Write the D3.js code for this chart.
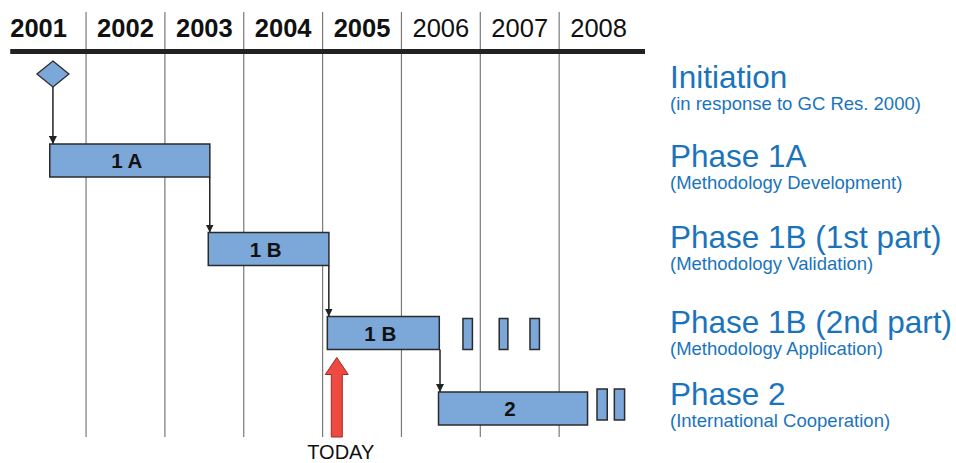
<!DOCTYPE html>
<html><head><meta charset="utf-8">
<script src="https://cdn.jsdelivr.net/npm/d3@7"></script>
<style>
html,body{margin:0;padding:0;background:#fff;}
svg{display:block;font-family:"Liberation Sans",Arial,Helvetica,sans-serif;}
</style></head>
<body>
<svg id="chart" width="956" height="463"></svg>
<script>
// ---------- data ----------
const years = [2001, 2002, 2003, 2004, 2005, 2006, 2007, 2008];
const rows = ["Initiation", "Phase 1A", "Phase 1B (1st part)", "Phase 1B (2nd part)", "Phase 2"];
const rowSubtitles = ["(in response to GC Res. 2000)", "(Methodology Development)", "(Methodology Validation)", "(Methodology Application)", "(International Cooperation)"];
const phaseLabels = ["1 A", "1 B", "1 B", "2"];
const phaseRows = ["Phase 1A", "Phase 1B (1st part)", "Phase 1B (2nd part)", "Phase 2"];
const phaseStart = [2001.54, 2003.55, 2005.06, 2006.47];
const phaseEnd = [2003.57, 2005.08, 2006.48, 2008.36];
const extraRows = ["Phase 1B (2nd part)", "Phase 1B (2nd part)", "Phase 1B (2nd part)", "Phase 2", "Phase 2"];
const extraStart = [2006.78, 2007.24, 2007.63, 2008.48, 2008.70];
const extraEnd = [2006.90, 2007.35, 2007.75, 2008.61, 2008.83];
const milestoneRow = "Initiation";
const milestoneYear = 2001.58;
const todayYear = 2005.18;
const todayLabel = "TODAY";

// ---------- scales ----------
const svg = d3.select("#chart");
const x = d3.scaleLinear().domain([2001, 2009]).range([7.2, 638]);
const y = d3.scaleOrdinal().domain(rows).range([74, 160.5, 249, 333, 408.5]);
const yLabel = d3.scaleOrdinal().domain(rows).range([88, 167, 248, 333, 405]);
const barH = 33;
const gridTop = 12, gridBottom = 437;

const fillBlue = "#7ba7d9", strokeDark = "#2b2b2b", textBlue = "#1a74bb";

// defs
svg.append("defs").append("marker")
  .attr("id", "ah").attr("viewBox", "0 0 10 10")
  .attr("refX", 10).attr("refY", 5)
  .attr("markerWidth", 8).attr("markerHeight", 8)
  .attr("markerUnits", "userSpaceOnUse")
  .attr("orient", "auto")
  .append("path").attr("d", "M0,0L10,5L0,10Z").attr("fill", "#222");

// grid lines
svg.append("g").selectAll("line").data(years.slice(1)).join("line")
  .attr("x1", d => x(d)).attr("x2", d => x(d))
  .attr("y1", gridTop).attr("y2", gridBottom)
  .attr("stroke", "#7a7a7a").attr("stroke-width", 1.2);

// thick header line
svg.append("line")
  .attr("x1", x.range()[0] + 3).attr("x2", x.range()[1] + 7)
  .attr("y1", 51.5).attr("y2", 51.5)
  .attr("stroke", "#222").attr("stroke-width", 5);

// year labels
svg.append("g").selectAll("text").data(years).join("text")
  .attr("x", d => (x(d) + x(d + 1)) / 2 - (d === years[0] ? 8 : 0))
  .attr("y", 37)
  .attr("text-anchor", "middle")
  .attr("font-size", 25.5)
  .attr("font-weight", d => d <= Math.floor(todayYear) ? "bold" : "normal")
  .attr("fill", "#111")
  .text(d => d);

// connectors
const starts = [{x: milestoneYear, row: milestoneRow, bottom: y(milestoneRow) + 13}]
  .concat(phaseStart.slice(0, -1).map((s, i) => ({x: phaseEnd[i], row: phaseRows[i], bottom: y(phaseRows[i]) + barH / 2})));
const conns = phaseStart.map((s, i) => ({
  x: i === 0 ? x(milestoneYear) : x(s) + 1.5,
  y1: starts[i].bottom,
  y2: y(phaseRows[i]) - barH / 2
}));
svg.append("g").selectAll("line").data(conns).join("line")
  .attr("x1", d => d.x).attr("x2", d => d.x)
  .attr("y1", d => d.y1).attr("y2", d => d.y2)
  .attr("stroke", "#222").attr("stroke-width", 1.5)
  .attr("marker-end", "url(#ah)");

// milestone diamond
const mx = x(milestoneYear), my = y(milestoneRow);
svg.append("path")
  .attr("d", `M${mx},${my - 13}L${mx + 16},${my}L${mx},${my + 13}L${mx - 16},${my}Z`)
  .attr("fill", fillBlue).attr("stroke", strokeDark).attr("stroke-width", 1.3);

// phase bars
const phases = phaseLabels.map((l, i) => ({label: l, row: phaseRows[i], s: phaseStart[i], e: phaseEnd[i]}));
const pg = svg.append("g").selectAll("g").data(phases).join("g");
pg.append("rect")
  .attr("x", d => x(d.s)).attr("width", d => x(d.e) - x(d.s))
  .attr("y", d => y(d.row) - barH / 2).attr("height", barH)
  .attr("fill", fillBlue).attr("stroke", strokeDark).attr("stroke-width", 1.5);
pg.append("text")
  .attr("x", d => (x(d.s) + x(d.e)) / 2 - 3)
  .attr("y", d => y(d.row) + 7.5)
  .attr("text-anchor", "middle")
  .attr("font-size", 20.5).attr("font-weight", "bold").attr("fill", "#111")
  .text(d => d.label);

// extra small bars
const extras = extraRows.map((r, i) => ({row: r, s: extraStart[i], e: extraEnd[i]}));
svg.append("g").selectAll("rect").data(extras).join("rect")
  .attr("x", d => x(d.s)).attr("width", d => x(d.e) - x(d.s))
  .attr("y", d => y(d.row) - barH / 2 + (d.row === "Phase 2" ? -3 : 2))
  .attr("height", 31)
  .attr("fill", fillBlue).attr("stroke", strokeDark).attr("stroke-width", 1.5);

// today arrow
const tx = x(todayYear);
const tipY = y("Phase 1B (2nd part)") + barH / 2 + 8;
const headY = tipY + 17;
svg.append("path")
  .attr("d", `M${tx},${tipY}L${tx + 11.5},${headY}L${tx + 5.5},${headY}L${tx + 5.5},${gridBottom}L${tx - 5.5},${gridBottom}L${tx - 5.5},${headY}L${tx - 11.5},${headY}Z`)
  .attr("fill", "#ef4a42").attr("stroke", "#9b2b27").attr("stroke-width", 1);
svg.append("text")
  .attr("x", tx + 4).attr("y", 459)
  .attr("text-anchor", "middle")
  .attr("font-size", 20).attr("fill", "#111")
  .text(todayLabel);

// right labels
const lg = svg.append("g").selectAll("g").data(rows).join("g");
lg.append("text")
  .attr("x", 670).attr("y", d => yLabel(d))
  .attr("font-size", 31.5).attr("fill", textBlue)
  .text(d => d);
lg.append("text")
  .attr("x", 670).attr("y", d => yLabel(d) + 22)
  .attr("font-size", 18.5).attr("fill", textBlue)
  .text((d, i) => rowSubtitles[i]);
</script>
</body></html>
